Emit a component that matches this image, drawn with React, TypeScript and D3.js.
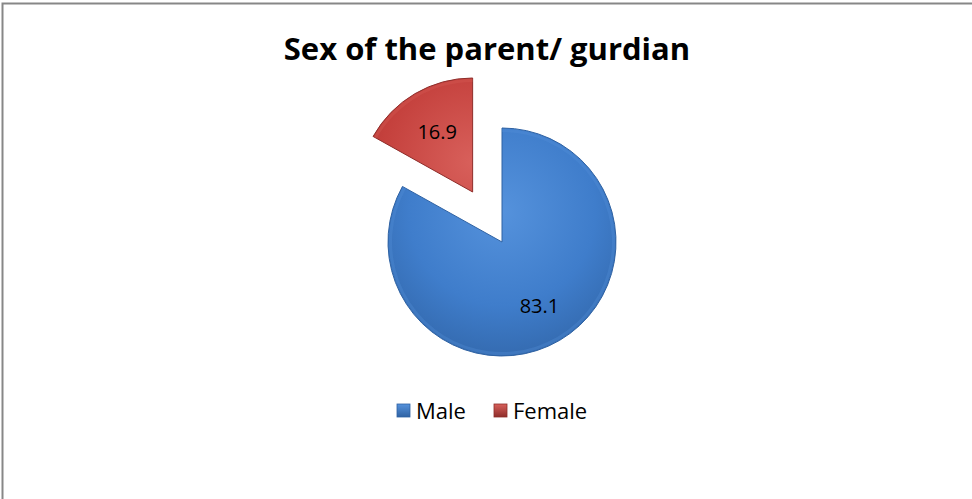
import React, { useEffect, useRef } from 'react';
import * as d3 from 'd3';

const categories = ['Male', 'Female'];
const values = [83.1, 16.9];
const title = 'Sex of the parent/ gurdian';

const colors = ['#3f7dcb', '#c4403c'];
const lightColors = ['#5592dc', '#d8605b'];
const darkColors = ['#2f62a3', '#8e2d2a'];

const App = () => {
  const ref = useRef<SVGSVGElement>(null);

  useEffect(() => {
    const width = 972;
    const height = 499;
    const svg = d3.select(ref.current);
    svg.selectAll('*').remove();

    svg.append('rect')
      .attr('width', width)
      .attr('height', height)
      .attr('fill', '#fff');

    // chart border (only top and left visible in the frame)
    svg.append('rect')
      .attr('x', 2.5)
      .attr('y', 3.5)
      .attr('width', width + 20)
      .attr('height', height + 20)
      .attr('fill', 'none')
      .attr('stroke', '#878787')
      .attr('stroke-width', 2);

    svg.append('text')
      .attr('x', 487)
      .attr('y', 60)
      .attr('text-anchor', 'middle')
      .style('font-family', '"Open Sans", sans-serif')
      .style('font-weight', 'bold')
      .style('font-size', '31px')
      .attr('fill', '#000')
      .text(title);

    const defs = svg.append('defs');
    categories.forEach((c, i) => {
      const grad = defs.append('radialGradient')
        .attr('id', `grad${i}`)
        .attr('gradientUnits', 'userSpaceOnUse')
        .attr('cx', 0)
        .attr('cy', -30)
        .attr('r', 170);
      grad.append('stop').attr('offset', '0%').attr('stop-color', lightColors[i]);
      grad.append('stop').attr('offset', '55%').attr('stop-color', colors[i]);
      grad.append('stop').attr('offset', '100%').attr('stop-color', darkColors[i]);

      const lg = defs.append('linearGradient')
        .attr('id', `leg${i}`)
        .attr('x1', 0).attr('y1', 0).attr('x2', 0).attr('y2', 1);
      lg.append('stop').attr('offset', '0%').attr('stop-color', lightColors[i]);
      lg.append('stop').attr('offset', '100%').attr('stop-color', darkColors[i]);
    });

    const cx = 502;
    const cy = 242;
    const radius = 114;
    const explode = 58;

    const pie = d3.pie<number>().sort(null).value(d => d);
    const arcs = pie(values);
    const arc = d3.arc<d3.PieArcDatum<number>>().innerRadius(0).outerRadius(radius);
    const labelR = [74, 70];

    const g = svg.append('g').attr('transform', `translate(${cx},${cy})`);

    arcs.forEach((a, i) => {
      const mid = (a.startAngle + a.endAngle) / 2;
      const off = i === 1 ? explode : 0;
      const dx = Math.sin(mid) * off;
      const dy = -Math.cos(mid) * off;
      const sg = g.append('g').attr('transform', `translate(${dx},${dy})`);

      sg.append('path')
        .attr('d', arc(a))
        .attr('fill', `url(#grad${i})`)
        .attr('stroke', darkColors[i])
        .attr('stroke-width', 1);

      // soft bevel highlight
      sg.append('path')
        .attr('d', d3.arc<d3.PieArcDatum<number>>().innerRadius(radius - 4).outerRadius(radius - 1)(a))
        .attr('fill', lightColors[i])
        .attr('opacity', 0.3);

      sg.append('text')
        .attr('x', Math.sin(mid) * labelR[i])
        .attr('y', -Math.cos(mid) * labelR[i])
        .attr('text-anchor', 'middle')
        .attr('dy', '0.35em')
        .style('font-family', '"Open Sans", sans-serif')
        .style('font-size', '20px')
        .attr('fill', '#000')
        .text(values[i].toFixed(1));
    });

    // legend
    const legendX = [397, 494];
    categories.forEach((c, i) => {
      svg.append('rect')
        .attr('x', legendX[i])
        .attr('y', 404)
        .attr('width', 13)
        .attr('height', 13)
        .attr('fill', `url(#leg${i})`)
        .attr('stroke', darkColors[i])
        .attr('stroke-width', 0.8);
      svg.append('text')
        .attr('x', legendX[i] + 19)
        .attr('y', 411)
        .attr('dy', '0.35em')
        .style('font-family', '"Open Sans", sans-serif')
        .style('font-size', '22px')
        .attr('fill', '#000')
        .text(c);
    });
  }, []);

  return (
    <svg
      ref={ref}
      width={972}
      height={499}
      style={{ position: 'absolute', left: 0, top: 0 }}
    />
  );
};

export default App;
